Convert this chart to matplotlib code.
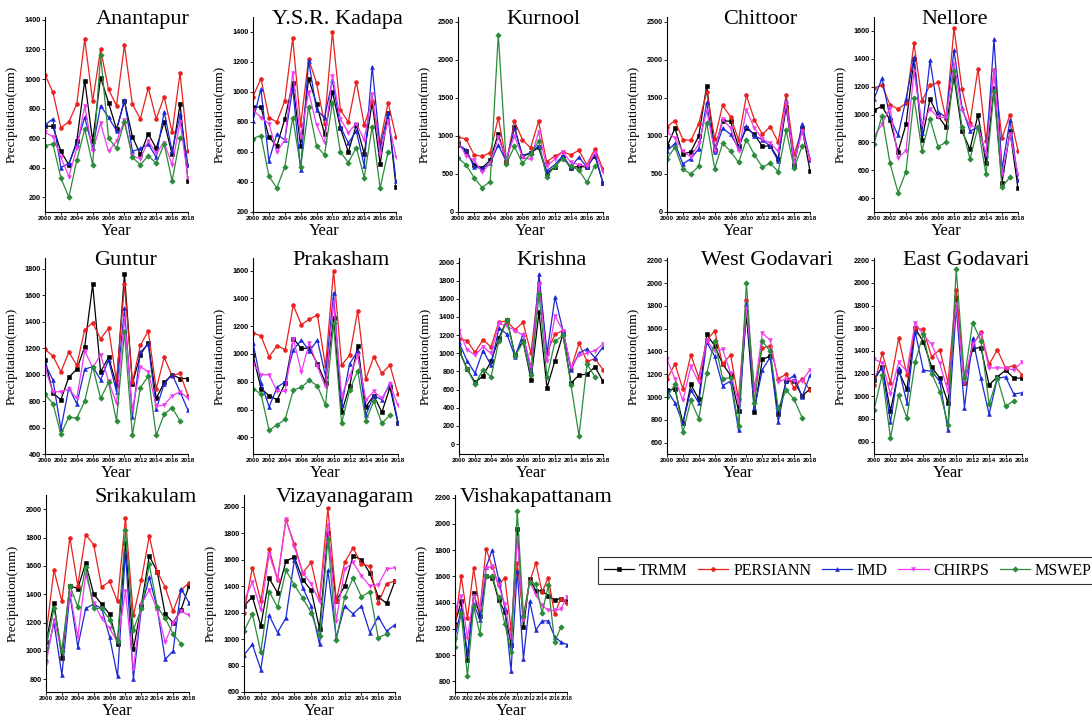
import numpy as np
import matplotlib
matplotlib.use("Agg")
import matplotlib.pyplot as plt

nan = np.nan
years = list(range(2000, 2019))
series_names = ["TRMM", "PERSIANN", "IMD", "CHIRPS", "MSWEP"]
series_colors = ["#000000", "#e8211e", "#1c28d6", "#f03cf0", "#2a8c3a"]
series_markers = ["s", "o", "^", "v", "D"]

# rainfall (mm), 2000..2018
anantapur_trmm = [680, 680, 510, 420, 580, 990, 580, 1010, 840, 660, 850, 610, 490, 630, 530, 710, 490, 830, 310]
anantapur_persiann = [1030, 910, 670, 710, 830, 1270, 850, 1200, 930, 820, 1230, 830, 730, 940, 730, 880, 640, 1040, 510]
anantapur_imd = [690, 730, 400, 430, 560, 740, 530, 820, 740, 650, 860, 510, 530, 560, 470, 780, 510, 760, 420]
anantapur_chirps = [640, 610, 470, 340, 530, 820, 510, 700, 510, 580, 720, 480, 460, 580, 500, 570, 420, 710, 330]
anantapur_mswep = [550, 560, 330, 200, 450, 660, 420, 1160, 600, 530, 710, 470, 420, 480, 430, 560, 310, 600, nan]

kadapa_trmm = [900, 900, 700, 640, 820, 1060, 640, 1090, 920, 720, 1000, 760, 600, 780, 590, 930, 520, 860, 370]
kadapa_persiann = [970, 1090, 830, 800, 940, 1360, 780, 1220, 1060, 790, 1400, 880, 800, 1070, 780, 940, 660, 930, 700]
kadapa_imd = [810, 1020, 540, 720, 680, 1030, 480, 1210, 880, 830, 1080, 770, 660, 740, 510, 1170, 630, 860, 410]
kadapa_chirps = [880, 830, 790, 600, 680, 1130, 700, 1000, 780, 660, 1110, 820, 730, 790, 680, 990, 590, 810, 570]
kadapa_mswep = [690, 710, 440, 360, 500, 830, 500, 900, 640, 580, 930, 600, 530, 630, 430, 770, 360, 600, nan]

kurnool_trmm = [900, 800, 620, 580, 680, 1030, 650, 1120, 730, 770, 850, 510, 590, 720, 580, 600, 590, 740, 380]
kurnool_persiann = [980, 960, 750, 730, 780, 1240, 650, 1190, 950, 840, 1190, 660, 730, 790, 750, 810, 620, 830, 560]
kurnool_imd = [880, 820, 590, 570, 640, 880, 660, 1100, 740, 780, 870, 540, 620, 740, 590, 720, 590, 760, 380]
kurnool_chirps = [920, 740, 680, 520, 640, 980, 700, 1000, 720, 690, 1050, 600, 690, 790, 650, 620, 600, 780, 530]
kurnool_mswep = [710, 620, 450, 320, 400, 2330, 630, 860, 640, 760, 930, 460, 600, 700, 600, 550, 390, 610, nan]

chittoor_trmm = [860, 1100, 760, 790, 1000, 1660, 820, 1200, 1190, 860, 1100, 1020, 860, 870, 700, 1380, 620, 1100, 540]
chittoor_persiann = [1120, 1200, 950, 940, 1160, 1580, 960, 1400, 1250, 950, 1530, 1210, 1020, 1120, 920, 1540, 760, 1080, 700]
chittoor_imd = [800, 900, 630, 700, 830, 1440, 790, 1100, 1020, 840, 1130, 1000, 950, 860, 670, 1460, 620, 1160, 680]
chittoor_chirps = [1050, 970, 800, 720, 900, 1330, 800, 1220, 1100, 800, 1340, 1100, 960, 900, 800, 1430, 650, 1060, 700]
chittoor_mswep = [700, 850, 560, 500, 600, 1170, 570, 900, 800, 650, 950, 750, 590, 640, 530, 1070, 580, 860, nan]

nellore_trmm = [1030, 1060, 960, 730, 930, 1400, 820, 1110, 990, 910, 1270, 880, 750, 1000, 650, 1190, 510, 880, 470]
nellore_persiann = [1190, 1210, 1070, 1040, 1080, 1510, 1100, 1210, 1230, 970, 1620, 1180, 940, 1330, 810, 1320, 830, 1000, 740]
nellore_imd = [1110, 1260, 980, 850, 1110, 1410, 870, 1390, 1020, 980, 1460, 1050, 880, 910, 710, 1540, 610, 960, 530]
nellore_chirps = [840, 930, 1050, 690, 740, 1310, 930, 1040, 980, 980, 1360, 1030, 920, 910, 720, 1310, 570, 860, 570]
nellore_mswep = [790, 990, 650, 440, 590, 1120, 740, 970, 770, 800, 1310, 910, 680, 910, 570, 1170, 480, 550, nan]

guntur_trmm = [1110, 860, 810, 980, 1040, 1210, 1680, 1020, 1130, 920, 1760, 930, 1150, 1240, 820, 940, 1000, 970, 970]
guntur_persiann = [1190, 1140, 1020, 1170, 1070, 1340, 1390, 1270, 1350, 950, 1680, 940, 1220, 1330, 890, 1130, 990, 1010, 840]
guntur_imd = [1080, 960, 590, 900, 780, 1040, 1060, 960, 1110, 870, 1500, 680, 1170, 1230, 740, 930, 1000, 870, 730]
guntur_chirps = [1050, 870, 870, 890, 820, 1180, 1050, 1150, 950, 780, 1430, 730, 1060, 1020, 760, 770, 840, 870, 820]
guntur_mswep = [850, 780, 550, 680, 670, 800, 1060, 820, 940, 650, 1320, 540, 900, 990, 540, 700, 750, 650, nan]

prakasham_trmm = [990, 750, 700, 670, 790, 1110, 1040, 1040, 930, 790, 1260, 580, 770, 1060, 620, 700, 580, 760, 500]
prakasham_persiann = [1150, 1130, 980, 1060, 1030, 1350, 1210, 1250, 1280, 910, 1600, 920, 990, 1310, 820, 980, 860, 920, 710]
prakasham_imd = [1080, 790, 620, 760, 800, 1030, 1100, 1020, 1100, 840, 1440, 630, 930, 1020, 560, 700, 670, 790, 510]
prakasham_chirps = [930, 850, 850, 730, 730, 1110, 870, 1080, 910, 760, 1370, 700, 840, 990, 670, 730, 680, 780, 630]
prakasham_mswep = [750, 710, 450, 490, 530, 740, 760, 810, 770, 630, 1220, 500, 740, 880, 520, 660, 500, 560, nan]

krishna_trmm = [1030, 830, 680, 750, 910, 1170, 1370, 980, 1140, 710, 1450, 620, 920, 1210, 670, 760, 770, 850, 690]
krishna_persiann = [1160, 1140, 1010, 1150, 1070, 1350, 1350, 1260, 1340, 1000, 1780, 1010, 1210, 1250, 830, 1110, 910, 940, 820]
krishna_imd = [1120, 920, 780, 1030, 870, 1280, 1210, 960, 1210, 810, 1870, 1000, 1620, 1250, 820, 1000, 1050, 950, 1070]
krishna_chirps = [1250, 1040, 980, 1070, 1000, 1330, 1300, 1250, 1200, 850, 1760, 910, 1410, 1250, 850, 980, 1000, 1030, 1100]
krishna_mswep = [1050, 830, 660, 820, 740, 1140, 1370, 970, 1120, 760, 1650, 740, 1130, 1200, 650, 90, 880, 740, nan]

wgodavari_trmm = [1060, 1070, 770, 1110, 980, 1550, 1450, 1290, 1190, 880, 1720, 870, 1330, 1360, 850, 1140, 1140, 1010, 1070]
wgodavari_persiann = [1160, 1290, 1070, 1370, 1170, 1500, 1580, 1290, 1370, 980, 1850, 1070, 1430, 1450, 1160, 1200, 1080, 1160, 1060]
wgodavari_imd = [1060, 950, 770, 1060, 950, 1480, 1360, 1100, 1140, 710, 1820, 900, 1240, 1350, 780, 1140, 1190, 1000, 1190]
wgodavari_chirps = [1330, 1160, 970, 1270, 1130, 1500, 1400, 1420, 1210, 950, 1780, 1060, 1560, 1500, 1130, 1160, 1140, 1140, 1240]
wgodavari_mswep = [1000, 1110, 690, 970, 810, 1210, 1490, 1160, 1170, 750, 2000, 950, 1490, 1400, 900, 1060, 980, 820, nan]

egodavari_trmm = [1140, 1260, 870, 1220, 1060, 1600, 1480, 1260, 1160, 940, 1870, 1120, 1420, 1430, 1100, 1170, 1230, 1160, 1160]
egodavari_persiann = [1100, 1380, 1120, 1510, 1190, 1600, 1590, 1350, 1410, 1120, 1940, 1120, 1450, 1570, 1280, 1410, 1250, 1270, 1190]
egodavari_imd = [1160, 1250, 770, 1250, 940, 1570, 1230, 1220, 1130, 700, 1780, 900, 1510, 1160, 840, 1160, 1170, 1020, 1030]
egodavari_chirps = [1330, 1290, 1020, 1300, 1220, 1650, 1540, 1460, 1290, 1040, 1810, 1130, 1460, 1550, 1250, 1250, 1250, 1230, 1300]
egodavari_mswep = [880, 1190, 630, 1010, 810, 1300, 1550, 1200, 1040, 750, 2120, 1160, 1650, 1490, 930, 1160, 910, 960, nan]

srikakulam_trmm = [1060, 1340, 950, 1460, 1440, 1620, 1400, 1330, 1260, 1050, 1760, 1010, 1320, 1670, 1560, 1260, 1200, 1290, 1460]
srikakulam_persiann = [1110, 1570, 1350, 1800, 1460, 1820, 1750, 1450, 1490, 1350, 1940, 1250, 1500, 1810, 1560, 1450, 1280, 1430, 1480]
srikakulam_imd = [940, 1200, 830, 1400, 1030, 1300, 1330, 1300, 1100, 820, 1700, 800, 1300, 1520, 1300, 940, 1000, 1440, 1340]
srikakulam_chirps = [910, 1220, 1000, 1410, 1100, 1540, 1340, 1230, 1160, 1060, 1420, 870, 1330, 1430, 1290, 1060, 1200, 1280, 1250]
srikakulam_mswep = [1020, 1300, 1000, 1460, 1310, 1590, 1300, 1300, 1220, 1070, 1850, 1150, 1300, 1610, 1310, 1230, 1120, 1050, nan]

vizayanagaram_trmm = [1250, 1320, 1100, 1460, 1350, 1590, 1620, 1450, 1370, 1080, 1800, 1290, 1400, 1630, 1600, 1500, 1320, 1270, 1440]
vizayanagaram_persiann = [1200, 1540, 1290, 1680, 1450, 1900, 1720, 1500, 1580, 1300, 1990, 1290, 1580, 1690, 1570, 1550, 1270, 1420, 1440]
vizayanagaram_imd = [880, 960, 770, 1180, 1050, 1160, 1600, 1390, 1250, 960, 1520, 1010, 1250, 1190, 1250, 1050, 1170, 1060, 1110]
vizayanagaram_chirps = [1290, 1430, 1220, 1640, 1450, 1910, 1700, 1500, 1420, 1280, 1860, 1140, 1530, 1580, 1480, 1400, 1410, 1530, 1540]
vizayanagaram_mswep = [1060, 1190, 900, 1360, 1240, 1520, 1410, 1310, 1200, 1020, 1760, 990, 1320, 1460, 1320, 1360, 1010, 1040, nan]

vishakapattanam_trmm = [1240, 1410, 960, 1470, 1300, 1600, 1590, 1420, 1330, 1080, 1960, 1210, 1580, 1490, 1490, 1450, 1420, 1430, 1410]
vishakapattanam_persiann = [1220, 1600, 1280, 1660, 1340, 1810, 1670, 1530, 1590, 1200, 1700, 1290, 1560, 1700, 1480, 1590, 1310, 1430, 1400]
vishakapattanam_imd = [1140, 1350, 1010, 1390, 1270, 1670, 1800, 1580, 1360, 880, 1640, 970, 1410, 1190, 1260, 1260, 1140, 1100, 1080]
vishakapattanam_chirps = [1350, 1450, 1130, 1450, 1360, 1660, 1680, 1530, 1390, 1130, 1900, 1270, 1560, 1460, 1380, 1340, 1340, 1350, 1440]
vishakapattanam_mswep = [1060, 1320, 840, 1370, 1160, 1600, 1600, 1440, 1240, 1020, 2100, 1300, 1560, 1540, 1320, 1530, 1100, 1210, nan]

# name, data, axes rect in pixels (left, top, right, bottom), ylim, yticks, title x
W, H = 1092, 719
panels = [
    ("Anantapur", [anantapur_trmm, anantapur_persiann, anantapur_imd, anantapur_chirps, anantapur_mswep],
     (45, 17, 188, 212), (100, 1420), range(200, 1401, 200), 0.68),
    ("Y.S.R. Kadapa", [kadapa_trmm, kadapa_persiann, kadapa_imd, kadapa_chirps, kadapa_mswep],
     (253, 17, 396, 212), (200, 1500), range(200, 1401, 200), 0.59),
    ("Kurnool", [kurnool_trmm, kurnool_persiann, kurnool_imd, kurnool_chirps, kurnool_mswep],
     (458, 17, 603, 212), (0, 2560), range(0, 2501, 500), 0.59),
    ("Chittoor", [chittoor_trmm, chittoor_persiann, chittoor_imd, chittoor_chirps, chittoor_mswep],
     (667, 17, 810, 212), (0, 2560), range(0, 2501, 500), 0.65),
    ("Nellore", [nellore_trmm, nellore_persiann, nellore_imd, nellore_chirps, nellore_mswep],
     (874, 17, 1018, 212), (300, 1700), range(400, 1601, 200), 0.56),
    ("Guntur", [guntur_trmm, guntur_persiann, guntur_imd, guntur_chirps, guntur_mswep],
     (45, 258, 188, 454), (400, 1880), range(400, 1801, 200), 0.56),
    ("Prakasham", [prakasham_trmm, prakasham_persiann, prakasham_imd, prakasham_chirps, prakasham_mswep],
     (253, 258, 398, 454), (280, 1690), range(400, 1601, 200), 0.61),
    ("Krishna", [krishna_trmm, krishna_persiann, krishna_imd, krishna_chirps, krishna_mswep],
     (459, 258, 603, 454), (-110, 2050), range(0, 2001, 200), 0.64),
    ("West Godavari", [wgodavari_trmm, wgodavari_persiann, wgodavari_imd, wgodavari_chirps, wgodavari_mswep],
     (667, 258, 810, 454), (500, 2220), range(600, 2201, 200), 0.70),
    ("East Godavari", [egodavari_trmm, egodavari_persiann, egodavari_imd, egodavari_chirps, egodavari_mswep],
     (874, 258, 1022, 454), (490, 2220), range(600, 2201, 200), 0.62),
    ("Srikakulam", [srikakulam_trmm, srikakulam_persiann, srikakulam_imd, srikakulam_chirps, srikakulam_mswep],
     (46, 495, 189, 692), (710, 2100), range(800, 2001, 200), 0.70),
    ("Vizayanagaram", [vizayanagaram_trmm, vizayanagaram_persiann, vizayanagaram_imd, vizayanagaram_chirps, vizayanagaram_mswep],
     (244, 495, 395, 692), (600, 2090), range(600, 2001, 200), 0.67),
    ("Vishakapattanam", [vishakapattanam_trmm, vishakapattanam_persiann, vishakapattanam_imd, vishakapattanam_chirps, vishakapattanam_mswep],
     (455, 495, 567, 692), (718, 2220), range(800, 2201, 200), 0.72),
]

serif = "Liberation Serif"
sans = "Liberation Sans"

fig = plt.figure(figsize=(W / 100, H / 100), dpi=100)

handles = None
for name, data, (l, t, r, b), ylim, yticks, tx in panels:
    ax = fig.add_axes([l / W, 1 - b / H, (r - l) / W, (b - t) / H])
    lines = []
    for vals, c, m, lab in zip(data, series_colors, series_markers, series_names):
        ln, = ax.plot(years, vals, color=c, marker=m, markersize=2.8, linewidth=0.9,
                      markeredgewidth=0.4, label=lab)
        lines.append(ln)
    if handles is None:
        handles = lines
    ax.set_xlim(2000, 2018)
    ax.set_ylim(*ylim)
    ax.set_xticks(range(2000, 2019, 2))
    ax.set_yticks(list(yticks))
    for s in ("top", "right"):
        ax.spines[s].set_visible(False)
    for s in ("left", "bottom"):
        ax.spines[s].set_linewidth(0.8)
    ax.tick_params(length=2, width=0.6, pad=1.2)
    xfs = 4.6 if (r - l) > 130 else 3.7
    for lbl in ax.get_xticklabels():
        lbl.set_fontsize(xfs)
        lbl.set_fontweight("bold")
        lbl.set_family(sans)
    for lbl in ax.get_yticklabels():
        lbl.set_fontsize(5.2)
        lbl.set_fontweight("bold")
        lbl.set_family(sans)
    ax.set_ylabel("Precipitation(mm)", family=serif, fontsize=9.5)
    ax.yaxis.set_label_coords(-0.19 * 143 / (r - l), 0.5)
    ax.set_xlabel("Year", family=serif, fontsize=12)
    ax.xaxis.set_label_coords(0.5, -0.055)
    ax.text(tx, 0.985, name, transform=ax.transAxes, ha="center", va="center",
            family=serif, fontsize=16)

leg = fig.legend(handles, series_names, loc="upper left", ncol=5,
                 bbox_to_anchor=(598 / W, 1 - 557 / H), frameon=True, fancybox=False,
                 edgecolor="black", prop={"family": serif, "size": 11.5},
                 handlelength=1.9, columnspacing=0.65, handletextpad=0.3,
                 borderpad=0.35, borderaxespad=0)
leg.get_frame().set_linewidth(0.8)

fig.savefig("out.png", dpi=100)
